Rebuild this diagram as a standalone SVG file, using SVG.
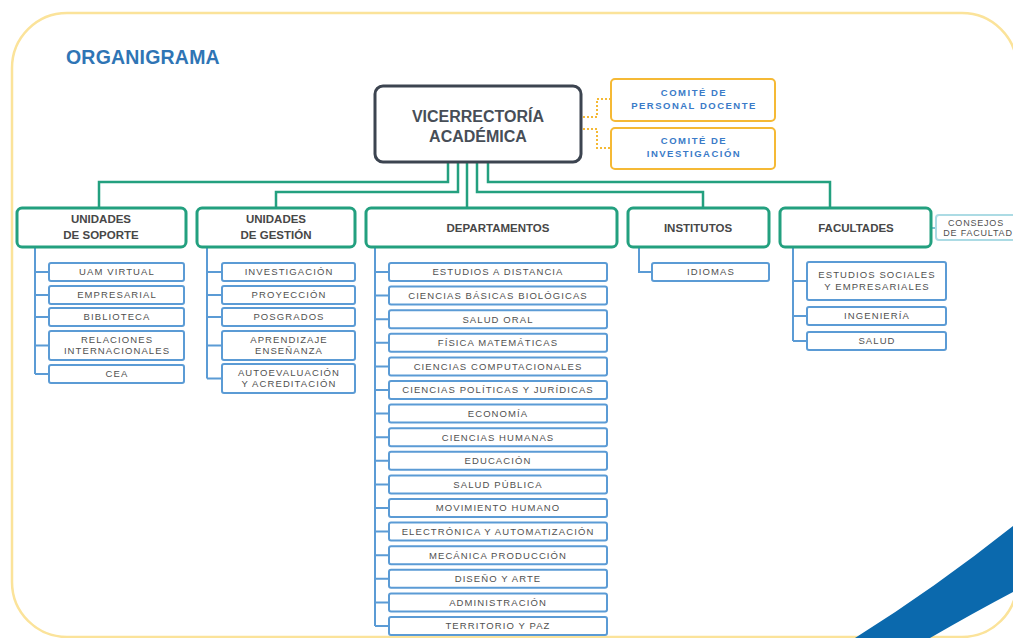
<svg xmlns="http://www.w3.org/2000/svg" width="1013" height="638" viewBox="0 0 1013 638">
<style>
.frame{fill:none;stroke:#fbe39a;stroke-width:2.5}
.title{font-family:"Liberation Sans",Arial,sans-serif;font-weight:bold;font-size:19.5px;fill:#2f75b5;letter-spacing:0.2px}
.top{fill:#fff;stroke:#3c4450;stroke-width:3}
.toptx{font-family:"Liberation Sans",Arial,sans-serif;font-weight:bold;font-size:16px;fill:#474e57;text-anchor:middle}
.com{fill:#fff;stroke:#f5b935;stroke-width:2}
.comtx{font-family:"Liberation Sans",Arial,sans-serif;font-weight:bold;font-size:9.5px;fill:#3a7bc8;text-anchor:middle;letter-spacing:1.5px}
.l2{fill:#fff;stroke:#23a07f;stroke-width:3}
.l2tx{font-family:"Liberation Sans",Arial,sans-serif;font-weight:bold;font-size:11.5px;fill:#474747;text-anchor:middle}
.ch{fill:#fff;stroke:#5b9bd5;stroke-width:2}
.chtx{font-family:"Liberation Sans",Arial,sans-serif;font-size:9.5px;fill:#505050;text-anchor:middle;letter-spacing:1.1px}
.cons{fill:#fff;stroke:#acdbe4;stroke-width:2}
.g{fill:none;stroke:#23a07f;stroke-width:2.5}
.b{fill:none;stroke:#5b9bd5;stroke-width:2}
.d{fill:none;stroke:#f5b935;stroke-width:2;stroke-dasharray:2 2}
.t{fill:none;stroke:#7cc3cf;stroke-width:2}
</style>
<rect x="0" y="0" width="1013" height="638" fill="#fff"/>
<rect class="frame" x="12" y="13" width="1005" height="624" rx="55"/>
<path d="M855 638 Q935 588 1013 526 L1013 592 Q975 612 930 638 Z" fill="#0b69ad"/>
<text class="title" x="66" y="64">ORGANIGRAMA</text>

<g id="connectors">
<path class="d" d="M583 117 H597 V99 H611"/>
<path class="d" d="M583 129 H597 V148 H611"/>
<path class="g" d="M448 162 V182 H99 V208"/>
<path class="g" d="M458 162 V192 H276 V208"/>
<path class="g" d="M467 162 V208"/>
<path class="g" d="M477 162 V192 H703 V208"/>
<path class="g" d="M488 162 V182 H830 V208"/>
<path class="t" d="M931 228 H936"/>
<path class="b" d="M35 247 V374 M35 272 H49 M35 295 H49 M35 317 H49 M35 345.5 H49 M35 374 H49"/>
<path class="b" d="M207 247 V378.5 M207 272 H222 M207 295 H222 M207 317 H222 M207 345.5 H222 M207 378.5 H222"/>
<path class="b" d="M375 247 V626 M375 272 H389 M375 295.6 H389 M375 319.2 H389 M375 342.8 H389 M375 366.4 H389 M375 390 H389 M375 413.6 H389 M375 437.2 H389 M375 460.8 H389 M375 484.4 H389 M375 508 H389 M375 531.6 H389 M375 555.2 H389 M375 578.8 H389 M375 602.4 H389 M375 626 H389"/>
<path class="b" d="M639 247 V272 H652"/>
<path class="b" d="M793 247 V341 M793 281 H807 M793 316 H807 M793 341 H807"/>
</g>

<g id="vicerrectoria">
<rect class="top" x="375" y="86" width="206" height="76" rx="8"/>
<text class="toptx" x="478" y="122">VICERRECTORÍA</text>
<text class="toptx" x="478" y="142">ACADÉMICA</text>
</g>
<g id="comite-personal">
<rect class="com" x="611" y="79" width="164" height="42" rx="4"/>
<text class="comtx" x="694" y="96">COMITÉ  DE</text>
<text class="comtx" x="694" y="109">PERSONAL DOCENTE</text>
</g>
<g id="comite-investigacion">
<rect class="com" x="611" y="128" width="164" height="41" rx="4"/>
<text class="comtx" x="694" y="144">COMITÉ  DE</text>
<text class="comtx" x="694" y="157">INVESTIGACIÓN</text>
</g>

<g id="unidades-soporte">
<rect class="l2" x="17" y="208" width="169" height="39" rx="5"/>
<text class="l2tx" x="101" y="223">UNIDADES</text>
<text class="l2tx" x="101" y="239">DE SOPORTE</text>
</g>
<g id="unidades-gestion">
<rect class="l2" x="197" y="208" width="158" height="39" rx="5"/>
<text class="l2tx" x="276" y="223">UNIDADES</text>
<text class="l2tx" x="276" y="239">DE GESTIÓN</text>
</g>
<g id="departamentos">
<rect class="l2" x="366" y="208" width="251" height="39" rx="5"/>
<text class="l2tx" x="498" y="232">DEPARTAMENTOS</text>
</g>
<g id="institutos">
<rect class="l2" x="628" y="208" width="141" height="39" rx="5"/>
<text class="l2tx" x="698" y="232">INSTITUTOS</text>
</g>
<g id="facultades">
<rect class="l2" x="780" y="208" width="151" height="39" rx="5"/>
<text class="l2tx" x="856" y="232">FACULTADES</text>
</g>
<g id="consejos">
<rect class="cons" x="936" y="215" width="90" height="25" rx="3"/>
<text class="chtx" x="976" y="226" style="font-size:9px;letter-spacing:0.8px">CONSEJOS</text>
<text class="chtx" x="978" y="236" style="font-size:9px;letter-spacing:0.8px">DE FACULTAD</text>
</g>

<g id="uam-virtual"><rect class="ch" x="49" y="263" width="135" height="18" rx="2"/><text class="chtx" x="117" y="275.4">UAM VIRTUAL</text></g>
<g id="empresarial"><rect class="ch" x="49" y="286" width="135" height="18" rx="2"/><text class="chtx" x="117" y="298.4">EMPRESARIAL</text></g>
<g id="biblioteca"><rect class="ch" x="49" y="308" width="135" height="18" rx="2"/><text class="chtx" x="117" y="320.4">BIBLIOTECA</text></g>
<g id="relaciones"><rect class="ch" x="49" y="331" width="135" height="29" rx="2"/><text class="chtx" x="117" y="342.5">RELACIONES</text><text class="chtx" x="117" y="354">INTERNACIONALES</text></g>
<g id="cea"><rect class="ch" x="49" y="365" width="135" height="18" rx="2"/><text class="chtx" x="117" y="377.4">CEA</text></g>

<g id="g-investigacion"><rect class="ch" x="222" y="263" width="133" height="18" rx="2"/><text class="chtx" x="289" y="275.4">INVESTIGACIÓN</text></g>
<g id="proyeccion"><rect class="ch" x="222" y="286" width="133" height="18" rx="2"/><text class="chtx" x="289" y="298.4">PROYECCIÓN</text></g>
<g id="posgrados"><rect class="ch" x="222" y="308" width="133" height="18" rx="2"/><text class="chtx" x="289" y="320.4">POSGRADOS</text></g>
<g id="aprendizaje"><rect class="ch" x="222" y="331" width="133" height="29" rx="2"/><text class="chtx" x="289" y="342.5">APRENDIZAJE</text><text class="chtx" x="289" y="354">ENSEÑANZA</text></g>
<g id="autoevaluacion"><rect class="ch" x="222" y="364" width="133" height="29" rx="2"/><text class="chtx" x="289" y="375.5">AUTOEVALUACIÓN</text><text class="chtx" x="289" y="387">Y ACREDITACIÓN</text></g>

<g id="d1"><rect class="ch" x="389" y="263" width="218" height="18" rx="2"/><text class="chtx" x="498" y="275.4">ESTUDIOS A DISTANCIA</text></g>
<g id="d2"><rect class="ch" x="389" y="286.6" width="218" height="18" rx="2"/><text class="chtx" x="498" y="299">CIENCIAS BÁSICAS BIOLÓGICAS</text></g>
<g id="d3"><rect class="ch" x="389" y="310.2" width="218" height="18" rx="2"/><text class="chtx" x="498" y="322.6">SALUD ORAL</text></g>
<g id="d4"><rect class="ch" x="389" y="333.8" width="218" height="18" rx="2"/><text class="chtx" x="498" y="346.2">FÍSICA MATEMÁTICAS</text></g>
<g id="d5"><rect class="ch" x="389" y="357.4" width="218" height="18" rx="2"/><text class="chtx" x="498" y="369.8">CIENCIAS COMPUTACIONALES</text></g>
<g id="d6"><rect class="ch" x="389" y="381" width="218" height="18" rx="2"/><text class="chtx" x="498" y="393.4">CIENCIAS POLÍTICAS Y JURÍDICAS</text></g>
<g id="d7"><rect class="ch" x="389" y="404.6" width="218" height="18" rx="2"/><text class="chtx" x="498" y="417">ECONOMÍA</text></g>
<g id="d8"><rect class="ch" x="389" y="428.2" width="218" height="18" rx="2"/><text class="chtx" x="498" y="440.6">CIENCIAS HUMANAS</text></g>
<g id="d9"><rect class="ch" x="389" y="451.8" width="218" height="18" rx="2"/><text class="chtx" x="498" y="464.2">EDUCACIÓN</text></g>
<g id="d10"><rect class="ch" x="389" y="475.4" width="218" height="18" rx="2"/><text class="chtx" x="498" y="487.8">SALUD PÚBLICA</text></g>
<g id="d11"><rect class="ch" x="389" y="499" width="218" height="18" rx="2"/><text class="chtx" x="498" y="511.4">MOVIMIENTO HUMANO</text></g>
<g id="d12"><rect class="ch" x="389" y="522.6" width="218" height="18" rx="2"/><text class="chtx" x="498" y="535">ELECTRÓNICA Y AUTOMATIZACIÓN</text></g>
<g id="d13"><rect class="ch" x="389" y="546.2" width="218" height="18" rx="2"/><text class="chtx" x="498" y="558.6">MECÁNICA PRODUCCIÓN</text></g>
<g id="d14"><rect class="ch" x="389" y="569.8" width="218" height="18" rx="2"/><text class="chtx" x="498" y="582.2">DISEÑO Y ARTE</text></g>
<g id="d15"><rect class="ch" x="389" y="593.4" width="218" height="18" rx="2"/><text class="chtx" x="498" y="605.8">ADMINISTRACIÓN</text></g>
<g id="d16"><rect class="ch" x="389" y="617" width="218" height="18" rx="2"/><text class="chtx" x="498" y="629.4">TERRITORIO Y PAZ</text></g>

<g id="idiomas"><rect class="ch" x="652" y="263" width="117" height="18" rx="2"/><text class="chtx" x="711" y="275.4">IDIOMAS</text></g>

<g id="estudios-sociales"><rect class="ch" x="807" y="262" width="139" height="38" rx="2"/><text class="chtx" x="877" y="278">ESTUDIOS SOCIALES</text><text class="chtx" x="877" y="290">Y EMPRESARIALES</text></g>
<g id="ingenieria"><rect class="ch" x="807" y="307" width="139" height="18" rx="2"/><text class="chtx" x="877" y="319.4">INGENIERÍA</text></g>
<g id="salud"><rect class="ch" x="807" y="332" width="139" height="18" rx="2"/><text class="chtx" x="877" y="344.4">SALUD</text></g>
</svg>
